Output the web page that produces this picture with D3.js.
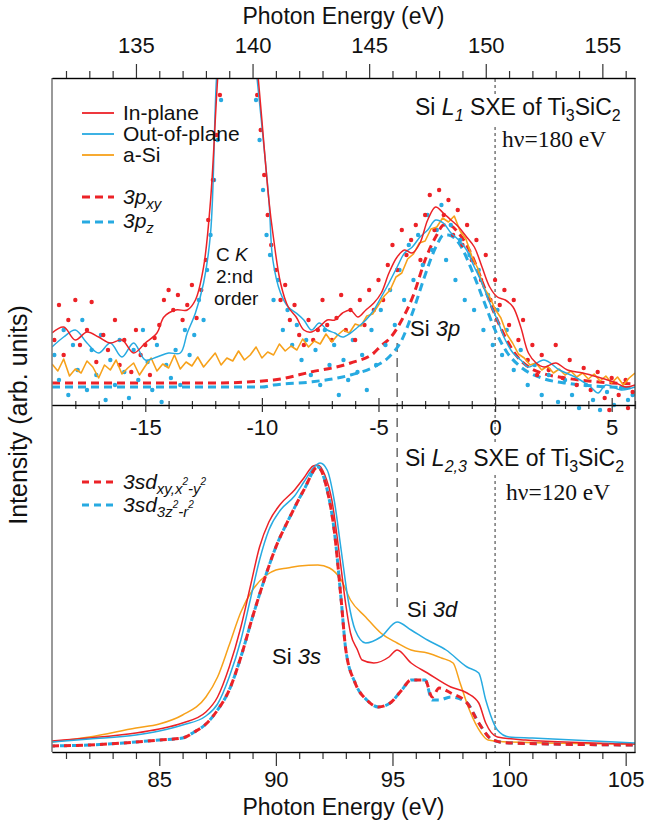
<!DOCTYPE html>
<html><head><meta charset="utf-8">
<script src="https://cdn.jsdelivr.net/npm/d3@7"></script>
<style>
body{margin:0;background:#fff;}
text{font-family:"Liberation Sans",Arial,Helvetica,sans-serif;fill:#111;white-space:pre;}
</style></head><body>
<svg id="chart" width="646" height="827"></svg>
<script>
// Si L1 (top) and Si L2,3 (bottom) SXE of Ti3SiC2

// top panel, x = energy relative to Fermi level (eV), y = arb. units
var inPlaneTop = [[-19.0,71],[-18.5,77],[-18.0,64],[-17.5,72],[-17.0,67],[-16.5,61],[-16.0,64],[-15.5,51],[-15.0,61],[-14.5,71],[-14.2,87],[-13.7,94],[-13.2,94],[-12.85,104],[-12.5,137],[-12.2,204],[-11.9,324],[-11.6,420],[-11.1,520],[-10.6,430],[-10.15,324],[-9.7,204],[-9.53,171],[-9.2,121],[-8.87,97],[-8.53,87],[-8.2,74],[-7.87,72],[-7.54,77],[-7.2,84],[-6.87,84],[-6.54,91],[-6.2,94],[-5.88,87],[-5.54,94],[-5.2,101],[-4.88,111],[-4.55,131],[-4.2,147],[-3.88,154],[-3.55,151],[-3.22,161],[-2.89,184],[-2.55,197],[-2.22,191],[-1.89,184],[-1.56,177],[-1.22,167],[-0.89,157],[-0.56,137],[-0.23,117],[0.1,107],[0.44,104],[0.77,97],[1.1,77],[1.43,51],[1.76,41],[2.1,37],[2.6,41],[3.1,34],[3.76,31],[4.4,27],[5.1,22],[5.6,17],[6.0,19]];

var outPlaneTop = [[-19.0,57],[-18.5,67],[-18.0,74],[-17.5,61],[-17.0,51],[-16.5,61],[-16.0,47],[-15.5,61],[-15.0,44],[-14.5,47],[-14.0,51],[-13.5,51],[-13.2,71],[-12.85,91],[-12.5,121],[-12.2,171],[-11.95,324],[-11.65,420],[-11.15,510],[-10.65,420],[-10.2,324],[-9.7,204],[-9.53,144],[-9.2,111],[-8.87,97],[-8.53,91],[-8.2,84],[-7.87,74],[-7.54,81],[-7.2,74],[-6.87,71],[-6.54,67],[-6.2,71],[-5.88,77],[-5.54,84],[-5.2,94],[-4.88,107],[-4.55,121],[-4.2,137],[-3.88,151],[-3.55,157],[-3.22,167],[-2.89,174],[-2.55,184],[-2.22,181],[-1.89,171],[-1.56,164],[-1.22,154],[-0.89,137],[-0.56,121],[-0.23,101],[0.1,84],[0.44,64],[0.77,51],[1.1,44],[1.43,37],[2.1,44],[2.76,34],[3.43,27],[4.1,17],[4.42,11],[4.75,19],[5.42,14],[6.0,17]];

// a-Si, sampled every 0.25 eV from -19 eV
var aSiTopStart = -19, aSiTopStep = 0.25;
var aSiTop = [40,33,45,28,35,31,43,37,26,39,34,44,30,36,41,29,38,46,33,40,36,49,35,42,38,47,37,44,51,39,46,43,53,44,49,57,46,52,49,60,53,58,54,65,57,63,60,70,62,69,74,71,80,78,88,90,99,108,114,127,131,145,150,161,163,175,177,186,182,188,173,165,148,136,117,108,95,86,70,61,50,46,39,41,34,38,31,35,29,33,27,31,25,30,23,28,21,27,19,26,31];

var p3xy = [[-19,21],[-12,21],[-9.5,24],[-7.9,32],[-6.2,41],[-5.2,51],[-4.9,58],[-4.5,66],[-4,84],[-3.5,109],[-3,144],[-2.5,169],[-2.2,179],[-2,179],[-1.5,169],[-1,149],[-0.5,119],[0,89],[0.5,64],[1,46],[1.5,36],[2,31],[3,26],[4,23],[5,21],[6,20]];
var p3z = [[-19,17],[-10,17],[-9.5,19],[-7.9,22],[-6.2,29],[-5.2,37],[-4.55,47],[-4,64],[-3.5,94],[-3,129],[-2.5,159],[-2.2,169],[-2,169],[-1.5,159],[-1,134],[-0.5,104],[0,74],[0.5,52],[1,39],[2,26],[3,21],[6,16]];

var inPlaneDots = [[-18.9,64],[-18.7,99],[-18.5,49],[-18.3,84],[-18.0,104],[-17.8,59],[-17.5,74],[-17.3,102],[-17.1,42],[-16.8,69],[-16.6,54],[-16.3,84],[-16.1,39],[-15.9,64],[-15.6,32],[-15.4,74],[-15.2,49],[-15.0,59],[-14.8,29],[-14.6,66],[-14.4,79],[-14.2,104],[-14.0,114],[-13.8,94],[-13.6,109],[-13.4,84],[-13.2,99],[-13.0,119],[-12.8,86],[-12.6,114],[-12.4,144],[-12.3,184],[-12.1,224],[-11.95,269],[-11.8,309],[-10.2,309],[-10.05,274],[-9.9,229],[-9.75,189],[-9.6,159],[-9.4,134],[-9.2,104],[-9.0,119],[-8.8,84],[-8.6,99],[-8.4,69],[-8.2,59],[-8.0,84],[-7.8,64],[-7.6,74],[-7.4,104],[-7.2,79],[-7.0,64],[-6.8,86],[-6.6,109],[-6.4,74],[-6.2,94],[-6.0,64],[-5.8,104],[-5.6,79],[-5.4,114],[-5.2,94],[-5.0,124],[-4.8,104],[-4.6,139],[-4.4,159],[-4.2,134],[-4.0,174],[-3.8,149],[-3.6,164],[-3.4,179],[-3.2,144],[-3.0,189],[-2.8,209],[-2.6,174],[-2.4,214],[-2.2,189],[-2.0,204],[-1.8,169],[-1.6,194],[-1.4,159],[-1.2,179],[-1.0,144],[-0.8,164],[-0.6,124],[-0.4,149],[-0.2,104],[0.0,124],[0.2,99],[0.4,114],[0.6,79],[0.8,104],[1.0,64],[1.2,84],[1.4,44],[1.6,59],[1.8,29],[2.0,49],[2.3,34],[2.6,59],[2.9,26],[3.2,44],[3.5,19],[3.8,36],[4.1,14],[4.4,32],[4.7,6],[4.9,-6],[5.0,26],[5.3,9],[5.6,24],[5.7,-4],[5.9,12]];

var outPlaneDots = [[-18.9,49],[-18.7,24],[-18.5,74],[-18.3,9],[-18.1,59],[-17.9,34],[-17.7,84],[-17.5,14],[-17.3,54],[-17.1,29],[-16.9,69],[-16.7,4],[-16.5,44],[-16.3,19],[-16.1,64],[-15.9,32],[-15.7,6],[-15.5,54],[-15.3,24],[-15.1,74],[-14.9,42],[-14.7,14],[-14.5,59],[-14.3,2],[-14.1,39],[-13.9,26],[-13.7,54],[-13.5,19],[-13.3,74],[-13.1,49],[-12.9,69],[-12.7,104],[-12.5,84],[-12.35,134],[-12.2,169],[-12.05,224],[-11.9,264],[-11.75,304],[-10.25,304],[-10.1,264],[-9.95,214],[-9.8,169],[-9.65,149],[-9.5,104],[-9.3,124],[-9.1,74],[-8.9,94],[-8.7,59],[-8.5,79],[-8.3,44],[-8.1,64],[-7.9,29],[-7.7,54],[-7.5,19],[-7.3,74],[-7.1,39],[-6.9,59],[-6.7,9],[-6.5,44],[-6.3,24],[-6.1,64],[-5.9,32],[-5.7,49],[-5.5,14],[-5.3,74],[-5.1,39],[-4.9,94],[-4.7,59],[-4.5,114],[-4.3,79],[-4.1,134],[-3.9,104],[-3.7,159],[-3.5,124],[-3.3,169],[-3.1,139],[-2.9,189],[-2.7,154],[-2.5,174],[-2.3,199],[-2.1,144],[-1.9,179],[-1.7,124],[-1.5,164],[-1.3,104],[-1.1,149],[-0.9,94],[-0.7,134],[-0.5,74],[-0.3,109],[-0.1,59],[0.1,94],[0.3,49],[0.5,74],[0.8,34],[1.1,54],[1.4,19],[1.7,39],[2.0,9],[2.3,29],[2.7,2],[3.0,24],[3.3,9],[3.6,-4],[3.9,19],[4.2,4],[4.5,-6],[4.8,12],[5.1,-1],[5.4,16],[5.7,4],[5.9,9]];

// bottom panel, x = photon energy (eV), y = arb. units
var inPlaneBot = [[80.4,11],[82,14],[84,19],[85,23],[86,29],[87,40],[87.5,55],[88,85],[88.5,125],[88.9,165],[89.3,205],[89.7,230],[90.2,248],[90.8,262],[91.2,274],[91.6,286],[91.8,287],[92.1,277],[92.4,252],[92.7,202],[93.0,147],[93.2,119],[93.5,102],[93.7,92],[94.2,89],[94.85,95],[95.2,102],[95.8,89],[96.5,79],[97.5,65],[98.2,59],[98.7,49],[99.0,29],[99.5,15],[100.7,12],[105.4,8]];
var outPlaneBot = [[80.4,10],[82,13],[84,17],[85,21],[86,27],[87,36],[87.5,48],[88,75],[88.5,112],[88.9,152],[89.3,192],[89.7,222],[90.2,242],[90.8,256],[91.2,270],[91.6,284],[91.9,289],[92.2,282],[92.5,252],[92.8,202],[93.1,152],[93.4,122],[93.85,109],[94.5,115],[95.2,130],[95.8,122],[96.5,112],[97.3,102],[98.2,85],[98.7,79],[99.0,52],[99.5,22],[100,15],[101,14],[105.4,9]];
var aSiBot = [[80.4,10],[82,15],[84,24],[85,28],[86,37],[87,55],[87.5,75],[88,107],[88.5,140],[89,162],[89.6,177],[90,182],[90.5,184],[91,186],[91.8,187],[92.3,184],[92.8,172],[93.2,152],[93.85,135],[94.5,119],[95.2,109],[95.8,102],[96.5,99],[97.1,94],[97.6,89],[97.9,69],[98.3,42],[98.8,19],[99.1,12],[100,10],[105.4,8]];
var sd3xy = [[80.4,6],[82,7],[84,10],[85,12],[86,14],[86.5,20],[87,28],[87.5,42],[88,62],[88.5,95],[89,135],[89.5,172],[90,205],[90.6,235],[91.2,262],[91.8,285],[92.2,262],[92.5,222],[92.8,152],[93.0,102],[93.4,69],[93.9,52],[94.4,45],[94.9,49],[95.4,62],[95.8,72],[96.4,72],[96.7,55],[97.0,64],[97.5,59],[98.2,49],[98.7,29],[99.3,12],[100,9],[105.4,7]];
var sd3z = [[80.4,6],[82,7],[84,10],[85,12],[86,14],[86.5,20],[87,28],[87.5,42],[88,62],[88.5,95],[89,135],[89.5,172],[90,205],[90.6,235],[91.2,262],[91.8,285],[92.2,262],[92.5,222],[92.8,152],[93.0,102],[93.4,69],[93.9,52],[94.4,45],[94.9,49],[95.4,62],[95.8,72],[96.4,72],[96.7,52],[97.0,52],[97.5,55],[98.2,49],[98.7,29],[99.3,12],[100,9],[105.4,7]];

var topTicks = [135, 140, 145, 150, 155];
var relTicks = [-15, -10, -5, 0, 5];
var botTicks = [85, 90, 95, 100, 105];
var fermiRel = 0, bandRel = -4.2;

var RED = "#ec2227", BLUE = "#27aae1", ORANGE = "#f7a11a";

var svg = d3.select("#chart");
var L = 52, R = 635;

var relX = d3.scaleLinear().domain([-19, 6]).range([L, R]);
var topE = d3.scaleLinear().domain([131.4, 156.4]).range([L, R]);
var botE = d3.scaleLinear().domain([80.4, 105.4]).range([L, R]);
var topY = d3.scaleLinear().domain([0, 325]).range([404, 79]);
var botY = d3.scaleLinear().domain([0, 348]).range([752, 404]);

svg.append("clipPath").attr("id", "clipTop")
  .append("rect").attr("x", L).attr("y", 79).attr("width", R - L).attr("height", 345);

// reference lines
svg.append("line").attr("x1", relX(fermiRel)).attr("x2", relX(fermiRel))
  .attr("y1", 79).attr("y2", 752)
  .attr("stroke", "#555").attr("stroke-width", 1.2).attr("stroke-dasharray", "3,3");
svg.append("line").attr("x1", relX(bandRel)).attr("x2", relX(bandRel))
  .attr("y1", 343).attr("y2", 610)
  .attr("stroke", "#444").attr("stroke-width", 1.2).attr("stroke-dasharray", "9,6");

function drawLine(g, data, x, y, color, w, dash, curve, offset) {
  var line = d3.line().x(function(d) { return x(d[0]); }).y(function(d) { return y(d[1]); })
    .curve(curve || d3.curveLinear);
  var p = g.append("path").datum(data).attr("d", line)
    .attr("fill", "none").attr("stroke", color).attr("stroke-width", w)
    .attr("stroke-linejoin", "round");
  if (dash) p.attr("stroke-dasharray", dash).attr("stroke-dashoffset", offset || 0);
  return p;
}

// top panel
var gt = svg.append("g").attr("clip-path", "url(#clipTop)");
drawLine(gt, p3z, relX, topY, BLUE, 3, "8,5", d3.curveMonotoneX);
drawLine(gt, p3xy, relX, topY, RED, 3, "8,5", d3.curveMonotoneX);
gt.selectAll(".db").data(outPlaneDots).enter().append("circle")
  .attr("cx", function(d) { return relX(d[0]); }).attr("cy", function(d) { return topY(d[1]); })
  .attr("r", 2.2).attr("fill", BLUE);
gt.selectAll(".dr").data(inPlaneDots).enter().append("circle")
  .attr("cx", function(d) { return relX(d[0]); }).attr("cy", function(d) { return topY(d[1]); })
  .attr("r", 2.2).attr("fill", RED);
drawLine(gt, aSiTop.map(function(v, i) { return [aSiTopStart + i * aSiTopStep, v]; }),
  relX, topY, ORANGE, 1.6);
drawLine(gt, outPlaneTop, relX, topY, BLUE, 1.5, null, d3.curveCatmullRom);
drawLine(gt, inPlaneTop, relX, topY, RED, 1.5, null, d3.curveCatmullRom);

// bottom panel
var gb = svg.append("g");
drawLine(gb, aSiBot, botE, botY, ORANGE, 1.5, null, d3.curveMonotoneX);
drawLine(gb, inPlaneBot, botE, botY, RED, 1.5, null, d3.curveMonotoneX);
drawLine(gb, outPlaneBot, botE, botY, BLUE, 1.5, null, d3.curveMonotoneX);
drawLine(gb, sd3z, botE, botY, BLUE, 3, "7,5", d3.curveMonotoneX, 4);
drawLine(gb, sd3xy, botE, botY, RED, 3, "7,5", d3.curveMonotoneX);

// frame
svg.append("line").attr("x1", L).attr("x2", L).attr("y1", 78).attr("y2", 752)
  .attr("stroke", "#777").attr("stroke-width", 1.5);
svg.append("line").attr("x1", R).attr("x2", R).attr("y1", 78).attr("y2", 752)
  .attr("stroke", "#333").attr("stroke-width", 1.2);

function styleAxis(g) {
  g.select(".domain").attr("stroke", "#333").attr("stroke-width", 1.3);
  g.selectAll(".tick line").attr("stroke", "#333").attr("stroke-width", 1.2);
  g.selectAll("text").style("font-size", "22px").attr("fill", "#111")
    .style("font-family", "'Liberation Sans', Arial, sans-serif");
}
function minors(a, b, skip) {
  return d3.range(a, b + 1).filter(function(v) { return skip.indexOf(v) < 0; });
}

// top axis (photon energy for L1)
var ga = svg.append("g").attr("transform", "translate(0,78)");
ga.append("g").call(d3.axisTop(topE).tickValues(minors(132, 156, topTicks)).tickSize(7).tickSizeOuter(0).tickFormat(""));
var gaM = ga.append("g").call(d3.axisTop(topE).tickValues(topTicks).tickSize(14).tickSizeOuter(0).tickPadding(11));
styleAxis(ga); gaM.selectAll("text").attr("dy", 0);

// middle axis (relative energy)
var gm = svg.append("g").attr("transform", "translate(0,405)");
gm.append("g").call(d3.axisBottom(relX).tickValues(minors(-18, 6, relTicks)).tickSize(4).tickSizeOuter(0).tickFormat(""));
var gmM = gm.append("g").call(d3.axisBottom(relX).tickValues(relTicks).tickSize(7).tickSizeOuter(0)
  .tickFormat(function(d) { return String(d); }));
styleAxis(gm);
gm.selectAll(".tick line").each(function() {
  var l = d3.select(this), s = +l.attr("y2"); l.attr("y1", -s);
});
gmM.selectAll("text").attr("y", 30).attr("dy", 0);

// bottom axis
var gbx = svg.append("g").attr("transform", "translate(0,752)");
gbx.append("g").call(d3.axisBottom(botE).tickValues(minors(81, 105, botTicks)).tickSize(7).tickSizeOuter(0).tickFormat(""));
var gbM = gbx.append("g").call(d3.axisBottom(botE).tickValues(botTicks).tickSize(14).tickSizeOuter(0));
styleAxis(gbx);
gbM.selectAll("text").attr("y", 35).attr("dy", 0);

// titles
svg.append("text").attr("x", (L + R) / 2).attr("y", 24).attr("text-anchor", "middle")
  .style("font-size", "23px").text("Photon Energy (eV)");
svg.append("text").attr("x", (L + R) / 2).attr("y", 815).attr("text-anchor", "middle")
  .style("font-size", "23px").text("Photon Energy (eV)");
svg.append("text").attr("transform", "translate(27,415) rotate(-90)").attr("text-anchor", "middle")
  .style("font-size", "25px").text("Intensity (arb. units)");

function rich(x, y, size, parts, family) {
  var t = svg.append("text").attr("x", x).attr("y", y).style("font-size", size + "px");
  if (family) t.style("font-family", family);
  var shift = 0;
  parts.forEach(function(p) {
    var s = p.s || 0;
    var ts = t.append("tspan").text(p.t).attr("dy", s - shift);
    shift = s;
    if (p.i) ts.style("font-style", "italic");
    if (p.z) ts.style("font-size", p.z + "px");
  });
  return t;
}
function backing(t) {
  var b = t.node().getBBox();
  svg.insert("rect", function() { return t.node(); })
    .attr("x", b.x - 3).attr("y", b.y).attr("width", b.width + 6).attr("height", b.height)
    .attr("fill", "#fff");
}

backing(rich(415, 115, 23, [{t: "Si "}, {t: "L", i: 1}, {t: "1", i: 1, s: 6, z: 16}, {t: " SXE of Ti"},
  {t: "3", s: 6, z: 16}, {t: "SiC"}, {t: "2", s: 6, z: 16}]));
rich(502, 147, 23.5, [{t: "h\u03bd=180 eV"}], "'Liberation Serif', 'Times New Roman', serif");
backing(rich(405, 466, 23, [{t: "Si "}, {t: "L", i: 1}, {t: "2,3", i: 1, s: 6, z: 16}, {t: " SXE of Ti"},
  {t: "3", s: 6, z: 16}, {t: "SiC"}, {t: "2", s: 6, z: 16}]));
rich(506, 500, 23.5, [{t: "h\u03bd=120 eV"}], "'Liberation Serif', 'Times New Roman', serif");

rich(216, 261, 19, [{t: "C "}, {t: "K", i: 1}]);
rich(216, 283, 19, [{t: "2:nd"}]);
rich(214, 305, 19, [{t: "order"}]);
rich(410, 336, 22, [{t: "Si "}, {t: "3p", i: 1}]);
rich(407, 617, 22, [{t: "Si "}, {t: "3d", i: 1}]);
rich(272, 664, 22, [{t: "Si "}, {t: "3s", i: 1}]);

// legends
function legendLine(y, color, dash, w) {
  var l = svg.append("line").attr("x1", 82).attr("x2", 114).attr("y1", y).attr("y2", y)
    .attr("stroke", color).attr("stroke-width", w);
  if (dash) l.attr("stroke-dasharray", dash);
}
legendLine(113, RED, null, 1.8);
rich(123, 120, 21, [{t: "In-plane"}]);
legendLine(134, BLUE, null, 1.8);
rich(123, 141, 21, [{t: "Out-of-plane"}]);
legendLine(155, ORANGE, null, 1.8);
rich(123, 162, 21, [{t: "a-Si"}]);
legendLine(197, RED, "8,5", 3);
rich(123, 204, 21, [{t: "3p", i: 1}, {t: "xy", i: 1, s: 5, z: 15}]);
legendLine(222, BLUE, "8,5", 3);
rich(123, 228, 21, [{t: "3p", i: 1}, {t: "z", i: 1, s: 5, z: 15}]);

legendLine(482, RED, "7,5", 3);
rich(123, 489, 21, [{t: "3sd", i: 1}, {t: "xy,x", i: 1, s: 5, z: 15}, {t: "2", i: 1, s: -4, z: 10},
  {t: "-y", i: 1, s: 5, z: 15}, {t: "2", i: 1, s: -4, z: 10}]);
legendLine(505, BLUE, "7,5", 3);
rich(123, 512, 21, [{t: "3sd", i: 1}, {t: "3z", i: 1, s: 5, z: 15}, {t: "2", i: 1, s: -4, z: 10},
  {t: "-r", i: 1, s: 5, z: 15}, {t: "2", i: 1, s: -4, z: 10}]);
</script>
</body></html>
